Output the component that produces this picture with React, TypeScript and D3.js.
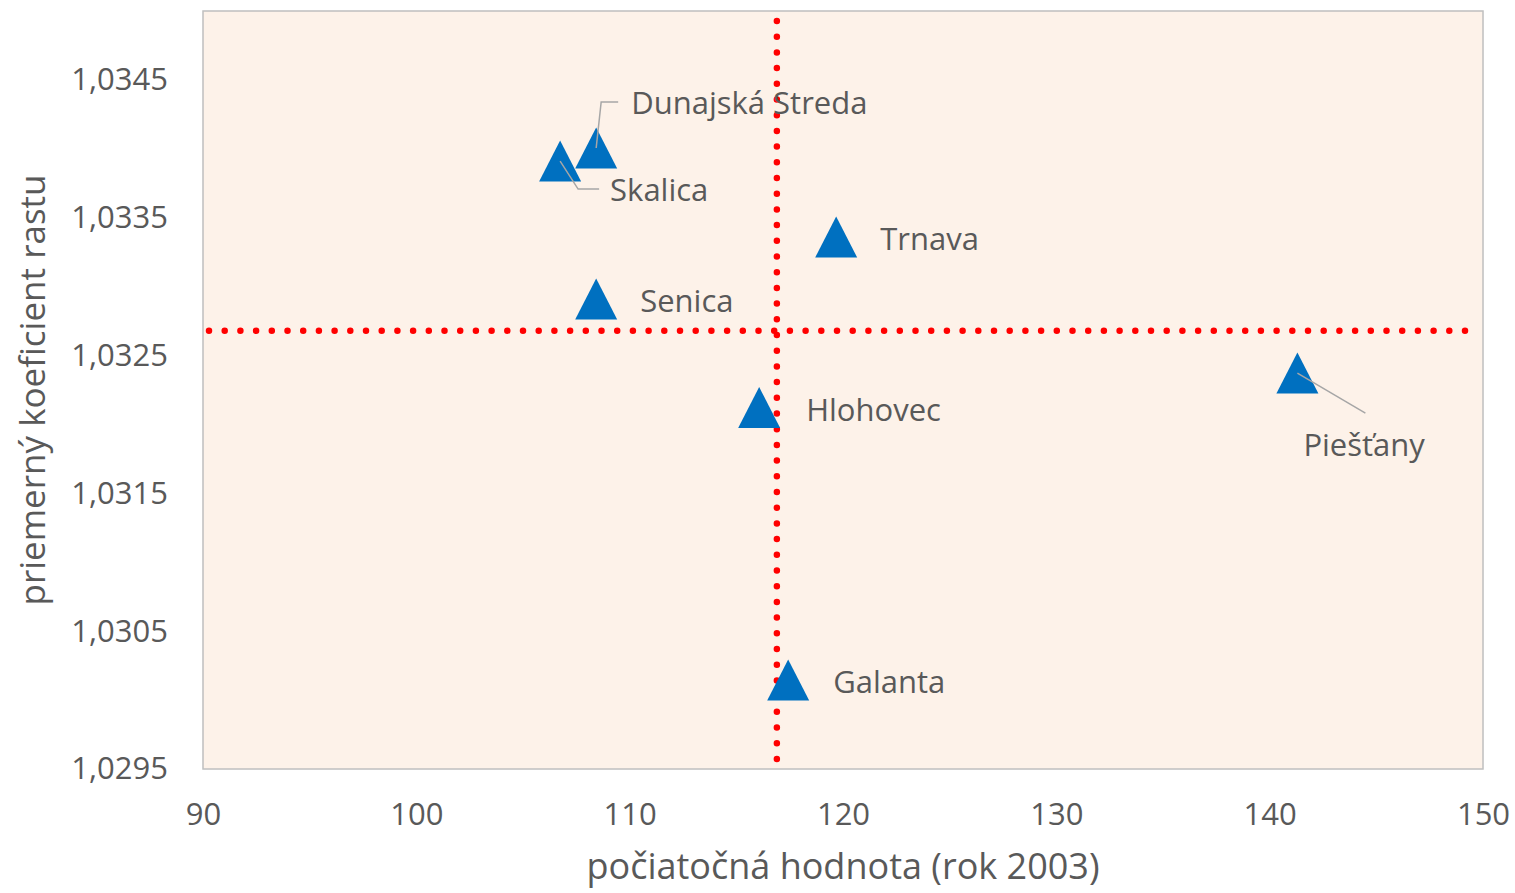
import { useEffect, useRef } from "react";
import * as d3 from "d3";

// okresy Trnavského kraja
const districts = [
  "Dunajská Streda",
  "Skalica",
  "Trnava",
  "Senica",
  "Hlohovec",
  "Piešťany",
  "Galanta",
];
const startValues = [108.43, 106.74, 119.68, 108.43, 116.07, 141.3, 117.43];
const growthCoefs = [1.034006, 1.033911, 1.03336, 1.03291, 1.032123, 1.032373, 1.030145];

const meanStart = 116.9;
const meanCoef = 1.03268;

const xTicks = [90, 100, 110, 120, 130, 140, 150];
const yTicks = [1.0295, 1.0305, 1.0315, 1.0325, 1.0335, 1.0345];

// umiestnenie popiskov (px od bodu) a spojnice
const labelLayout: Record<string, { dx: number; dy: number; leader?: [number, number][] }> = {
  "Dunajská Streda": { dx: 35, dy: -45, leader: [[22, -46], [5, -46], [0, 0]] },
  Skalica: { dx: 50, dy: 29, leader: [[0, 0], [18, 28], [39, 28]] },
  Trnava: { dx: 44, dy: 2 },
  Senica: { dx: 44, dy: 2 },
  Hlohovec: { dx: 47, dy: 3 },
  Piešťany: { dx: 6, dy: 72, leader: [[0, 0], [68, 40]] },
  Galanta: { dx: 45, dy: 2 },
};

const App = () => {
  const svgRef = useRef(null);

  useEffect(() => {
    const svg = d3.select(svgRef.current);
    svg.selectAll("*").remove();
    const width = 1515;
    const height = 893;
    const margin = { top: 11, right: 32, bottom: 124, left: 203 };
    const font = "'Open Sans', sans-serif";
    const textColor = "#595959";

    svg.attr("width", width).attr("height", height);

    const x = d3.scaleLinear().domain([90, 150]).range([margin.left, width - margin.right]);
    const y = d3.scaleLinear().domain([1.0295, 1.035]).range([height - margin.bottom, margin.top]);

    const [x0, x1] = x.range();
    const [y0, y1] = y.range();

    svg
      .append("rect")
      .attr("x", x0)
      .attr("y", y1)
      .attr("width", x1 - x0)
      .attr("height", y0 - y1)
      .attr("fill", "#FDF2E9")
      .attr("stroke", "#BFBFBF")
      .attr("stroke-width", 1.5);

    // osi
    const xAxis = d3.axisBottom(x).tickValues(xTicks).tickSize(0).tickPadding(34);
    const gx = svg.append("g").attr("transform", `translate(0,${y0})`).call(xAxis as any);
    gx.select(".domain").remove();
    gx.selectAll("text").attr("font-family", font).attr("font-size", 31).attr("fill", textColor);

    const fmt = (v: number) => d3.format(".4f")(v).replace(".", ",");
    const yAxis = d3.axisLeft(y).tickValues(yTicks).tickSize(0).tickPadding(35).tickFormat(fmt as any);
    const gy = svg.append("g").attr("transform", `translate(${x0},0)`).call(yAxis as any);
    gy.select(".domain").remove();
    gy.selectAll("text").attr("font-family", font).attr("font-size", 31).attr("fill", textColor);

    svg
      .append("text")
      .attr("x", (x0 + x1) / 2)
      .attr("y", 866)
      .attr("dy", "0.35em")
      .attr("text-anchor", "middle")
      .attr("font-family", font)
      .attr("font-size", 36)
      .attr("fill", textColor)
      .text("počiatočná hodnota (rok 2003)");

    svg
      .append("text")
      .attr("transform", `translate(33,${(y0 + y1) / 2}) rotate(-90)`)
      .attr("dy", "0.35em")
      .attr("text-anchor", "middle")
      .attr("font-family", font)
      .attr("font-size", 35)
      .attr("fill", textColor)
      .text("priemerný koeficient rastu");

    // priemery - bodkované čiary
    const dotted = (g: any) =>
      g
        .attr("stroke", "#FF0000")
        .attr("stroke-width", 6.5)
        .attr("stroke-linecap", "round")
        .attr("stroke-dasharray", "0 15.7");

    svg
      .append("line")
      .attr("x1", x0 + 6)
      .attr("x2", x1 - 8)
      .attr("y1", y(meanCoef))
      .attr("y2", y(meanCoef))
      .call(dotted);

    svg
      .append("line")
      .attr("x1", x(meanStart))
      .attr("x2", x(meanStart))
      .attr("y1", y1 + 10)
      .attr("y2", y0)
      .call(dotted);

    const points = districts.map((name, i) => ({
      name,
      px: x(startValues[i]),
      py: y(growthCoefs[i]),
    }));

    const triW = 42;
    const triH = 41;
    const tri = `M0,${-triH / 2}L${triW / 2},${triH / 2}L${-triW / 2},${triH / 2}Z`;

    svg
      .append("g")
      .selectAll("path")
      .data(points)
      .enter()
      .append("path")
      .attr("d", tri)
      .attr("transform", (d) => `translate(${d.px},${d.py})`)
      .attr("fill", "#0070C0");

    // spojnice popiskov
    const line = d3.line();
    svg
      .append("g")
      .selectAll("path")
      .data(points.filter((d) => labelLayout[d.name].leader))
      .enter()
      .append("path")
      .attr("d", (d) =>
        line(labelLayout[d.name].leader!.map(([a, b]) => [d.px + a, d.py + b]))
      )
      .attr("fill", "none")
      .attr("stroke", "#A6A6A6")
      .attr("stroke-width", 1.5);

    svg
      .append("g")
      .selectAll("text")
      .data(points)
      .enter()
      .append("text")
      .attr("x", (d) => d.px + labelLayout[d.name].dx)
      .attr("y", (d) => d.py + labelLayout[d.name].dy)
      .attr("dy", "0.35em")
      .attr("font-family", font)
      .attr("font-size", 31)
      .attr("fill", textColor)
      .text((d) => d.name);
  }, []);

  return <svg ref={svgRef} style={{ position: "absolute", left: 0, top: 0, display: "block" }}></svg>;
};

export default App;
